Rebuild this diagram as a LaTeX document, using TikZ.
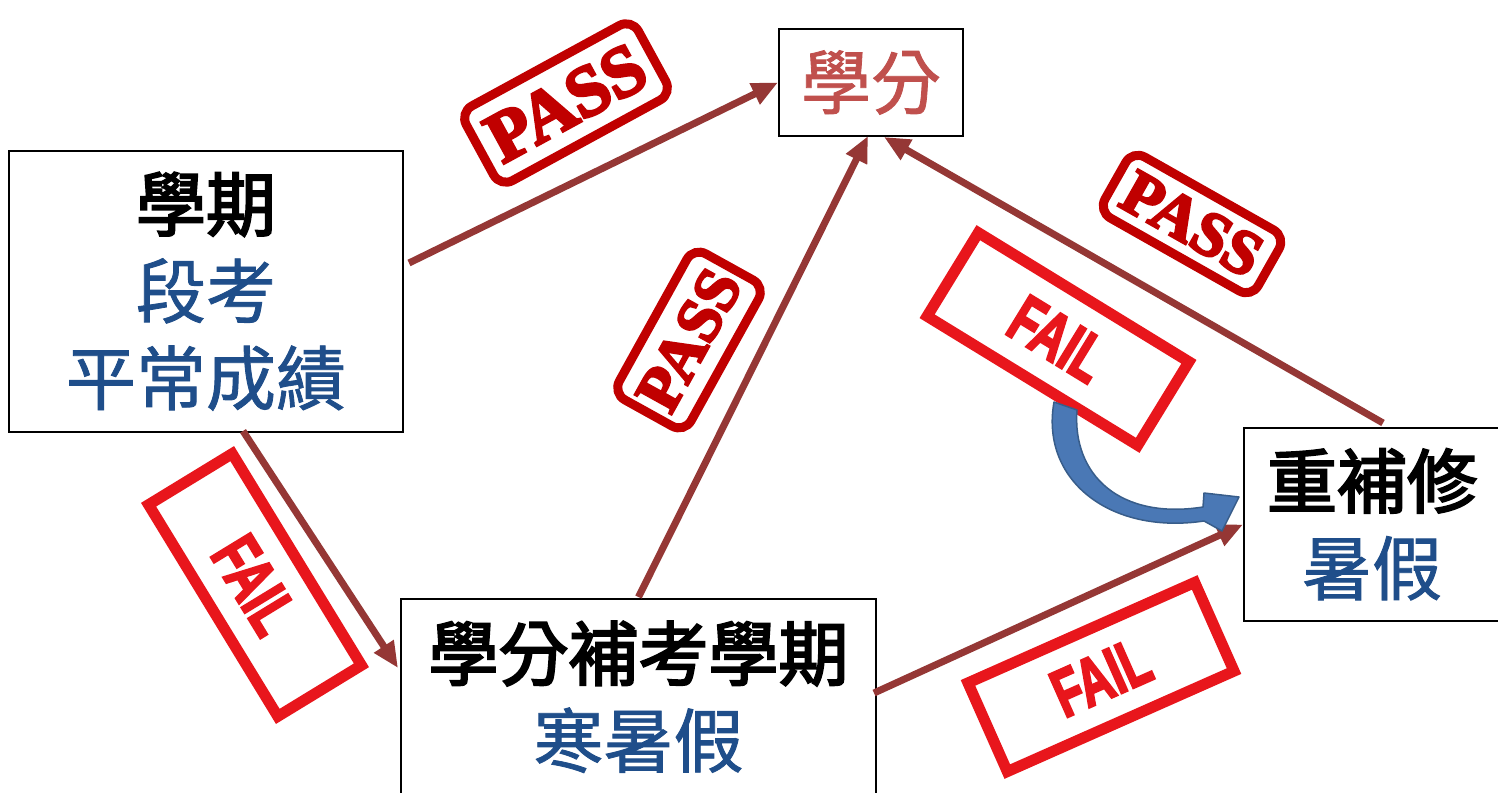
\documentclass[tikz,border=0pt]{standalone}
\usepackage{fontspec}
\setmainfont{Liberation Serif}
\newfontfamily\cjk{Noto Sans CJK TC}[FakeBold=1.2]
\newfontfamily\cjkb{Noto Sans CJK TC}[FakeBold=3]
\newfontfamily\passf{Liberation Serif}[BoldFeatures={FakeBold=4}]
\newfontfamily\failf{Liberation Sans}[BoldFeatures={FakeBold=4}]
\usetikzlibrary{arrows.meta,calc}
\definecolor{arrowred}{HTML}{953735}
\definecolor{txtblue}{HTML}{1F4E8A}
\definecolor{txtred}{HTML}{C0504D}
\definecolor{passred}{HTML}{C00000}
\definecolor{failred}{HTML}{E8161C}
\definecolor{curvblue}{HTML}{4A78B5}
\definecolor{curvedge}{HTML}{385D8A}
\begin{document}
\begin{tikzpicture}[x=1pt,y=-1pt,
  box/.style={draw=black,line width=2pt,fill=white,inner sep=0pt,align=center,font=\fontsize{70}{87}\selectfont},
  conn/.style={draw=arrowred,line width=7pt,-{Triangle[length=26pt,width=22pt]}},
  passstamp/.style={draw=passred,line width=9pt,rounded corners=14pt,text=passred,inner sep=0pt,font=\passf\bfseries},
  failstamp/.style={draw=failred,line width=11pt,text=failred,inner sep=0pt,font=\failf\bfseries}]
\useasboundingbox (0,0) rectangle (1498,792);
\clip (0,0) rectangle (1498,792);
\fill[white] (0,0) rectangle (1498,792);

% stamps
\node[passstamp,rotate=28.6,minimum width=196pt,minimum height=85pt] (pass1) at (566,103) {\resizebox{170pt}{!}{PASS}};
\node[passstamp,rotate=-29.5,minimum width=176pt,minimum height=70pt] (pass2) at (1192,224) {\resizebox{150pt}{!}{PASS}};
\node[passstamp,rotate=61,minimum width=167pt,minimum height=82pt] (pass3) at (689,340) {\resizebox{150pt}{!}{PASS}};
\node[failstamp,rotate=-31.5,minimum width=247pt,minimum height=98pt] (fail1) at (1058,339) {\resizebox{100pt}{46pt}{FAIL}};
\node[failstamp,rotate=-58.6,minimum width=248pt,minimum height=98pt] (fail2) at (255,585) {\resizebox{100pt}{46pt}{FAIL}};
\node[failstamp,rotate=23.9,minimum width=248pt,minimum height=97pt] (fail3) at (1101,677) {\resizebox{100pt}{46pt}{FAIL}};

% boxes
\node[box,minimum width=394pt,minimum height=281pt] (sem) at (206,291.5)
  {{\cjkb 學期}\\{\cjk\color{txtblue}段考}\\{\cjk\color{txtblue}平常成績}};
\node[box,minimum width=184pt,minimum height=107pt,text=txtred] (credit) at (871,82.5) {\cjk 學分};
\node[box,minimum width=475pt,minimum height=196pt] (makeup) at (638.5,697)
  {{\cjkb 學分補考學期}\\{\cjk\color{txtblue}寒暑假}};
\node[box,minimum width=256pt,minimum height=193pt] (retake) at (1372,524.5)
  {{\cjkb 重補修}\\{\cjk\color{txtblue}暑假}};

% connectors
\draw[conn] ($(sem.east)+(5,-28.5)$) -- (credit.west);
\draw[conn] ($(makeup.north)+(0,-1)$) -- ($(credit.south)+(-3,-1)$);
\draw[conn] ($(retake.north)+(11,-4)$) -- ($(credit.south)+(13,0)$);
\draw[conn] ($(sem.south)+(37,-2)$) -- ($(makeup.west)+(-2,-29)$);
\draw[conn] ($(makeup.east)+(-3,-4)$) -- (retake.west);

% curved blue arrow from FAIL stamp toward retake box
\coordinate (cstart) at (1066,405);
\coordinate (cend) at (1239,497);
\filldraw[fill=curvblue,draw=curvedge,line width=1.5pt,line join=round]
  (1054,402) .. controls (1040,480) and (1110,535) .. (1204,521)
  -- (1222,531) -- (cend) -- (1204,493) -- (1203,507)
  .. controls (1120,520) and (1072,475) .. (1077,410) -- cycle;
\end{tikzpicture}
\end{document}
